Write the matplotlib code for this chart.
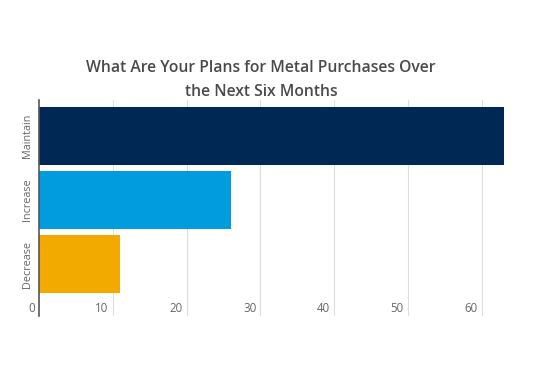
import matplotlib
matplotlib.use("Agg")
import matplotlib.pyplot as plt
from matplotlib.transforms import offset_copy

categories = ["Decrease", "Increase", "Maintain"]
values = [11, 26, 63]
colors = ["#F2A900", "#009CDE", "#002855"]
xticks = [0, 10, 20, 30, 40, 50, 60]
title = "What Are Your Plans for Metal Purchases Over\nthe Next Six Months"

fig = plt.figure(figsize=(5.5, 3.89), dpi=100)
ax = fig.add_axes([39/550, 1-316/389, (510-39)/550, (316-100)/389])

ypos = list(range(len(categories)))
ax.barh(ypos, values, height=0.9, color=colors, zorder=2)
ax.set_xlim(0, (510-39)/7.38)
ax.set_ylim(-0.8125, 2.5625)

for t in xticks[1:]:
    ax.axvline(t, color="#dddddd", lw=0.8, zorder=1)
for s in ["top", "right", "bottom"]:
    ax.spines[s].set_visible(False)
ax.spines["left"].set_color("#555555")
ax.spines["left"].set_linewidth(1.2)
ax.spines["left"].set_zorder(3)

ax.set_xticks([])
ax.set_yticks(ypos)
ax.set_yticklabels(categories, rotation=90, va="center", fontsize=7.8, color="#666666", family="Open Sans")
ax.tick_params(axis="y", length=0, pad=4)

tr = offset_copy(ax.transData, fig=fig, x=-3, y=0, units="points")
for t in xticks:
    ax.text(t, -0.69, str(t), transform=tr, ha="right", va="center", fontsize=8.3, color="#666666", family="Open Sans")

fig.text(261/550, 1-80/389, title, ha="center", va="center", fontsize=11.3, fontweight="semibold",
         color="#4a4a4a", family="Open Sans", linespacing=1.6)

fig.savefig("out.png", dpi=100)
